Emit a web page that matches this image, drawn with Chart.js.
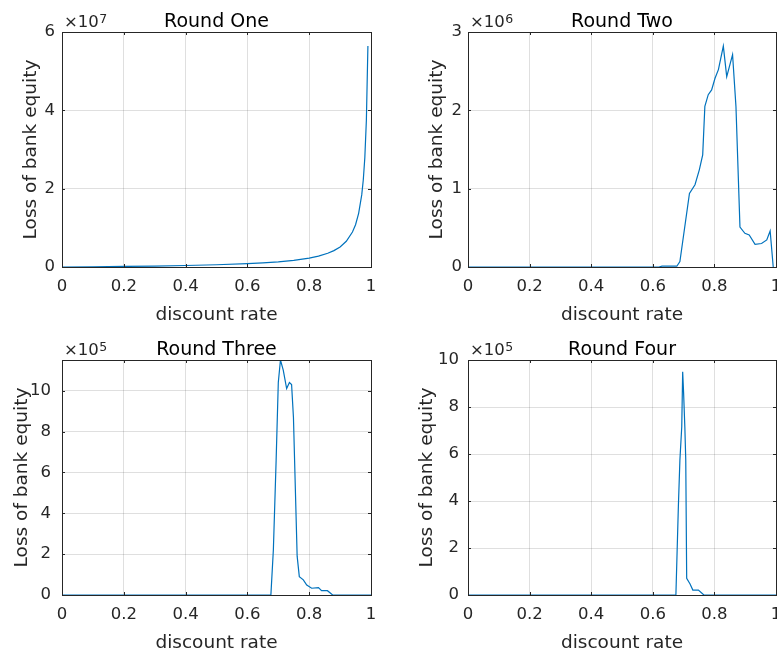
<!DOCTYPE html>
<html>
<head>
<meta charset="utf-8">
<script src="https://cdn.jsdelivr.net/npm/chart.js@4/dist/chart.umd.min.js"></script>
<style>
  body { margin:0; background:#fff; overflow:hidden; width:777px; height:653px; position:relative; }
  .panel { position:absolute; }
</style>
</head>
<body>
<div class="panel" style="left:0;top:0"><canvas id="c1" width="390" height="330"></canvas></div>
<div class="panel" style="left:390px;top:0"><canvas id="c2" width="410" height="330"></canvas></div>
<div class="panel" style="left:0;top:330px"><canvas id="c3" width="390" height="323"></canvas></div>
<div class="panel" style="left:390px;top:330px"><canvas id="c4" width="410" height="323"></canvas></div>
<script>
// discount rate (x) and loss of bank equity (y, in units of the exponent shown on the axis)
const roundOneX = [0, 0.1, 0.2, 0.3, 0.4, 0.5, 0.6, 0.65, 0.7, 0.75, 0.8, 0.83, 0.86, 0.88, 0.9, 0.92, 0.94, 0.95, 0.96, 0.97, 0.975, 0.98, 0.985, 0.99];
const roundOneY = [0, 0.006, 0.014, 0.024, 0.038, 0.057, 0.086, 0.106, 0.133, 0.171, 0.228, 0.278, 0.35, 0.418, 0.513, 0.656, 0.893, 1.08, 1.37, 1.84, 2.22, 2.79, 3.74, 5.64];

const roundTwoX = [0, 0.62, 0.63, 0.67, 0.678, 0.688, 0.719, 0.737, 0.751, 0.762, 0.769, 0.78, 0.791, 0.802, 0.813, 0.829, 0.84, 0.859, 0.87, 0.883, 0.899, 0.913, 0.932, 0.953, 0.97, 0.981, 0.991];
const roundTwoY = [0, 0, 0.012, 0.012, 0.01, 0.07, 0.94, 1.05, 1.24, 1.43, 2.05, 2.2, 2.26, 2.41, 2.52, 2.82, 2.43, 2.71, 2.05, 0.51, 0.43, 0.41, 0.29, 0.3, 0.345, 0.46, 0];

const roundThreeX = [0, 0.676, 0.684, 0.693, 0.7, 0.707, 0.716, 0.727, 0.736, 0.743, 0.749, 0.761, 0.768, 0.781, 0.792, 0.808, 0.83, 0.84, 0.859, 0.876, 1];
const roundThreeY = [0, 0, 2.2, 6.6, 10.4, 11.5, 11.0, 10.1, 10.4, 10.3, 8.7, 1.9, 0.9, 0.74, 0.49, 0.33, 0.36, 0.21, 0.21, 0, 0];

const roundFourX = [0, 0.675, 0.683, 0.688, 0.694, 0.697, 0.7, 0.704, 0.707, 0.71, 0.721, 0.73, 0.748, 0.766, 1];
const roundFourY = [0, 0, 3.76, 5.74, 7.16, 9.5, 8.6, 7.16, 5.74, 0.71, 0.47, 0.21, 0.21, 0, 0];

const titles = ["Round One", "Round Two", "Round Three", "Round Four"];
const exponents = ["7", "6", "5", "5"];
const yMax = [6, 3, 11.5, 10];
const yStep = [2, 1, 2, 2];
const xTickStep = 0.2;
const xLabel = "discount rate";
const yLabel = "Loss of bank equity";

const FONT = '"DejaVu Sans", "Liberation Sans", Arial, sans-serif';
const AXIS = "#262626";

// MATLAB-like box, inner ticks, title, exponent and axis labels
const framePlugin = {
  id: "frame",
  afterDraw(chart, args, o) {
    const ctx = chart.ctx, a = chart.chartArea;
    const xs = chart.scales.x, ys = chart.scales.y;
    ctx.save();
    ctx.strokeStyle = AXIS; ctx.lineWidth = 1;
    ctx.beginPath();
    ctx.moveTo(a.left, Math.round(a.top) + 0.5); ctx.lineTo(a.right + 0.5, Math.round(a.top) + 0.5);
    ctx.moveTo(Math.round(a.right) + 0.5, a.top); ctx.lineTo(Math.round(a.right) + 0.5, a.bottom);
    xs.ticks.forEach(t => {
      const px = Math.round(xs.getPixelForValue(t.value)) + 0.5;
      ctx.moveTo(px, a.bottom); ctx.lineTo(px, a.bottom - 3);
      ctx.moveTo(px, a.top); ctx.lineTo(px, a.top + 3);
    });
    ys.ticks.forEach(t => {
      const py = Math.round(ys.getPixelForValue(t.value)) + 0.5;
      ctx.moveTo(a.left, py); ctx.lineTo(a.left + 3, py);
      ctx.moveTo(a.right, py); ctx.lineTo(a.right - 3, py);
    });
    ctx.stroke();

    const cx = (a.left + a.right) / 2, cy = (a.top + a.bottom) / 2;
    ctx.textBaseline = "alphabetic";
    // title
    ctx.fillStyle = "#000";
    ctx.font = "19px " + FONT;
    ctx.textAlign = "center";
    ctx.fillText(o.title, cx, a.top - 5.5);
    // exponent
    ctx.fillStyle = AXIS;
    ctx.textAlign = "left";
    ctx.font = "16.5px " + FONT;
    const base = "\u00d710";
    ctx.fillText(base, a.left + 2, a.top - 5);
    const w = ctx.measureText(base).width;
    ctx.font = "12.5px " + FONT;
    ctx.fillText(o.exp, a.left + 2 + w + 0.5, a.top - 9.5);
    // x label
    ctx.font = "18.5px " + FONT;
    ctx.textAlign = "center";
    ctx.fillText(xLabel, cx, a.bottom + 52.5);
    // y label
    ctx.translate(a.left - o.yLabelOff, cy);
    ctx.rotate(-Math.PI / 2);
    ctx.fillText(yLabel, 0, 0);
    ctx.restore();
  }
};

function makeChart(id, xs, ys, i, lay) {
  const points = xs.map((x, k) => ({ x: x, y: ys[k] }));
  return new Chart(document.getElementById(id), {
    type: "line",
    data: { datasets: [{ data: points, borderColor: "#0072BD", borderWidth: 1.2, pointRadius: 0, tension: 0, fill: false }] },
    options: {
      responsive: false, animation: false,
      layout: { padding: { top: lay.top, right: lay.right, left: 0, bottom: 0 } },
      plugins: {
        legend: { display: false }, tooltip: { enabled: false },
        frame: { title: titles[i], exp: exponents[i], yLabelOff: lay.yLabelOff }
      },
      scales: {
        x: {
          type: "linear", min: 0, max: 1,
          afterFit: s => { s.height = lay.xHeight; },
          ticks: {
            stepSize: xTickStep, maxRotation: 0, autoSkip: false, color: AXIS, padding: 10,
            font: { family: FONT, size: 16.5 },
            callback: v => String(+v.toFixed(2))
          },
          grid: { color: "rgba(38,38,38,0.15)", drawTicks: false },
          border: { display: true, color: AXIS, width: 1 }
        },
        y: {
          type: "linear", min: 0, max: yMax[i],
          afterFit: s => { s.width = lay.yWidth; },
          ticks: {
            stepSize: yStep[i], includeBounds: false, color: AXIS, padding: lay.tickPad,
            font: { family: FONT, size: 16.5 },
            callback: v => String(+v.toFixed(2))
          },
          grid: { color: "rgba(38,38,38,0.15)", drawTicks: false },
          border: { display: true, color: AXIS, width: 1 }
        }
      }
    },
    plugins: [framePlugin]
  });
}

makeChart("c1", roundOneX, roundOneY, 0, { top: 32, right: 19, yWidth: 62, xHeight: 63, tickPad: 7, yLabelOff: 26 });
makeChart("c2", roundTwoX, roundTwoY, 1, { top: 32, right: 24, yWidth: 78, xHeight: 63, tickPad: 6, yLabelOff: 26 });
makeChart("c3", roundThreeX, roundThreeY, 2, { top: 30, right: 19, yWidth: 62, xHeight: 58, tickPad: 11, yLabelOff: 35.5 });
makeChart("c4", roundFourX, roundFourY, 3, { top: 30, right: 24, yWidth: 78, xHeight: 58, tickPad: 9, yLabelOff: 36 });
</script>
</body>
</html>
